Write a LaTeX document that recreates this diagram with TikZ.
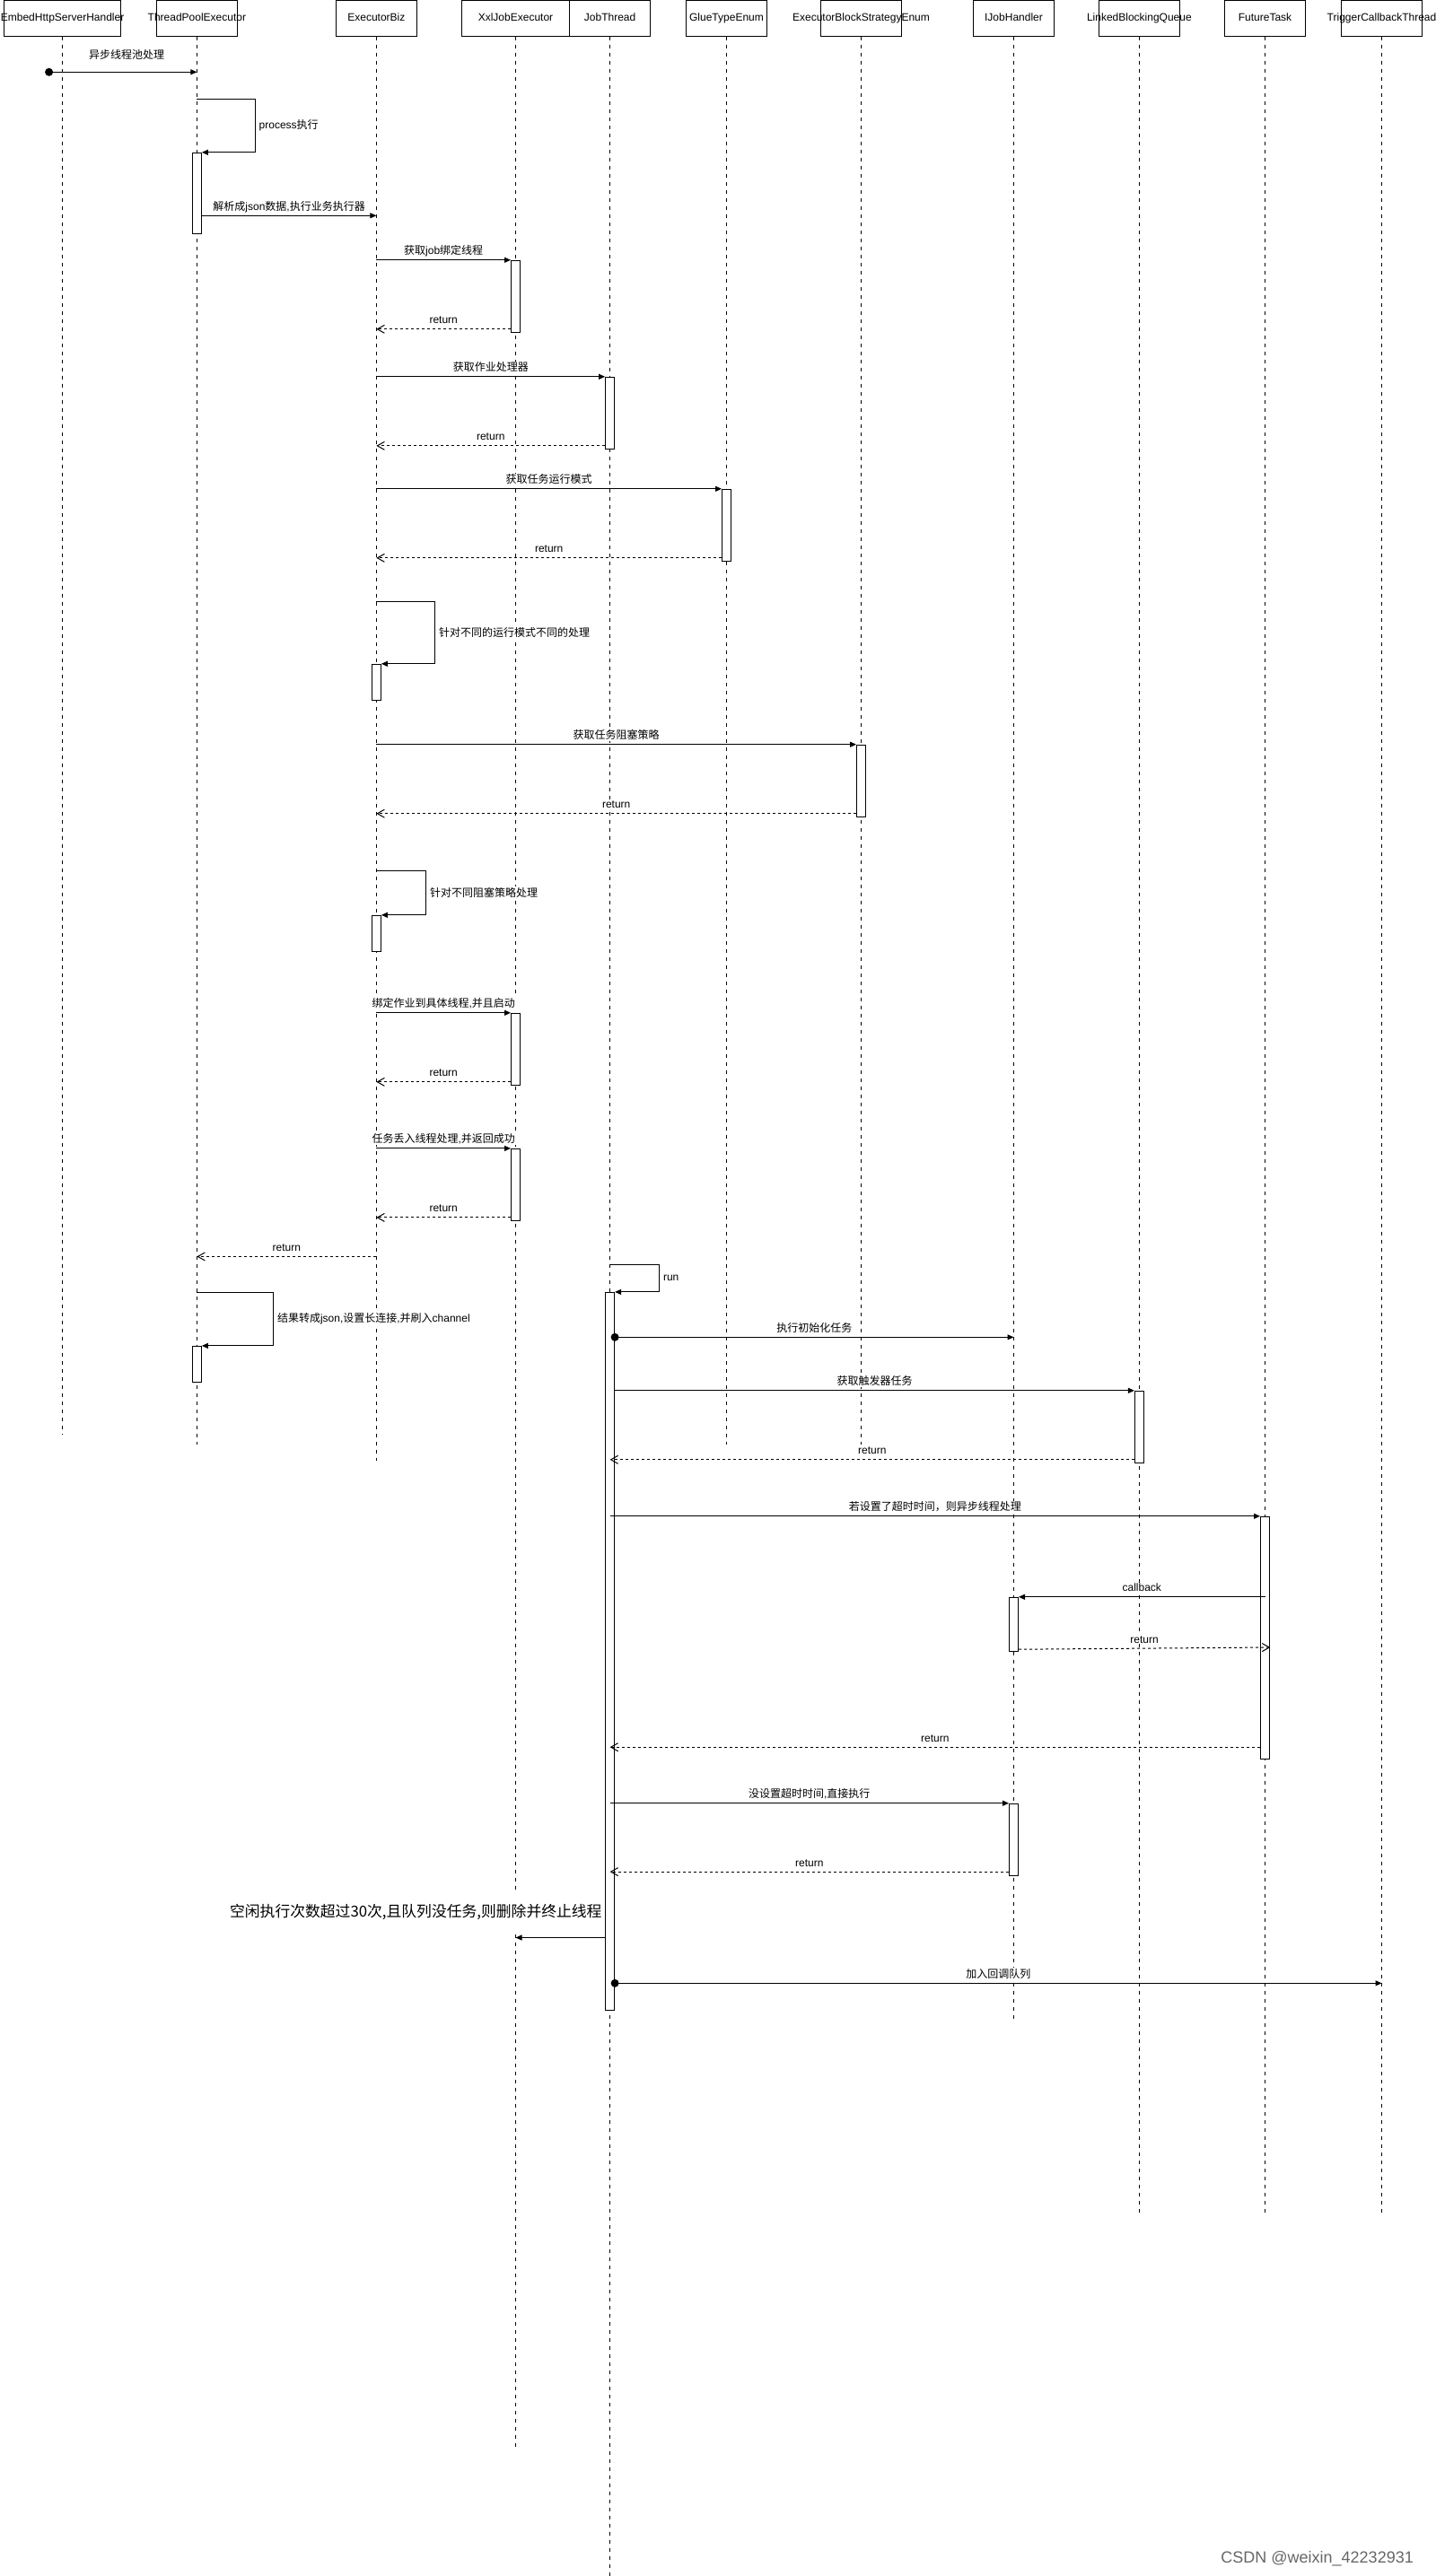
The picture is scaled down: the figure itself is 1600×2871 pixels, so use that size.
\documentclass[tikz,border=0pt]{standalone}
\usepackage{fontspec}
\setmainfont{Liberation Sans}
\newfontfamily\zhfont{Noto Sans CJK SC}
\newcommand{\zh}[1]{{\zhfont #1}}
\usetikzlibrary{arrows.meta}
\tikzset{
head/.style={draw, rectangle, minimum width=45pt, minimum height=20pt, inner sep=0pt},
headlbl/.style={inner sep=0pt, text height=4.4pt, text depth=1.3pt},
life/.style={draw, dash pattern=on 2.25pt off 2.25pt},
act/.style={draw, fill=white, rectangle, minimum width=5pt, inner sep=0pt},
call/.style={draw, -{Triangle[length=3.5pt, width=3pt]}},
ret/.style={draw, dash pattern=on 1.5pt off 1.5pt, -{Straight Barb[length=4pt, width=4.5pt]}},
startdot/.style={circle, fill, inner sep=0pt, minimum size=4.5pt},
lbl/.style={fill=white, inner sep=0.5pt, anchor=base, yshift=3pt},
looplbl/.style={fill=white, inner sep=0.5pt, anchor=west, xshift=1.5pt},
idlelbl/.style={fill=white, inner sep=1pt, minimum height=23pt, anchor=east, font=\fontsize{8.4pt}{10pt}\selectfont},
}

\begin{document}
\begin{tikzpicture}[x=0.5pt, y=-0.5pt, line width=0.5pt, font=\fontsize{6pt}{7.2pt}\selectfont]
    \useasboundingbox (0,0) rectangle (1600,2871);

    %heads at y=20
    \node[head, minimum width=65pt, label={[headlbl]center:EmbedHttpServerHandler}] (embed) at (69.6,20) { };
    \node[head, label={[headlbl]center:ThreadPoolExecutor}]              (pool) at (219.4,20) { };
    \node[head, label={[headlbl]center:ExecutorBiz}]                      (biz) at (419.4,20) { };
    \node[head, minimum width=60pt, label={[headlbl]center:XxlJobExecutor}] (xxl) at (574.5,20) { };
    \node[head, label={[headlbl]center:JobThread}]                      (jobth) at (679.6,20) { };
    \node[head, label={[headlbl]center:GlueTypeEnum}]                    (glue) at (809.5,20) { };
    \node[head, label={[headlbl]center:ExecutorBlockStrategyEnum}]      (block) at (959.5,20) { };
    \node[head, label={[headlbl]center:IJobHandler}]                  (handler) at (1129.5,20) { };
    \node[head, label={[headlbl]center:LinkedBlockingQueue}]            (queue) at (1269.4,20) { };
    \node[head, label={[headlbl]center:FutureTask}]                    (future) at (1409.5,20) { };
    \node[head, label={[headlbl]center:TriggerCallbackThread}]        (trigger) at (1539.5,20) { };

    %lifeline ends
    \coordinate   (embed-end) at (69.6,1598);
    \coordinate    (pool-end) at (219.4,1610);
    \coordinate     (biz-end) at (419.4,1628);
    \coordinate     (xxl-end) at (574.5,2730);
    \coordinate   (jobth-end) at (679.6,2871);
    \coordinate    (glue-end) at (809.5,1610);
    \coordinate   (block-end) at (959.5,1610);
    \coordinate (handler-end) at (1129.5,2251);
    \coordinate   (queue-end) at (1269.4,2468);
    \coordinate  (future-end) at (1409.5,2468);
    \coordinate (trigger-end) at (1539.5,2468);

    %lifelines
    \draw[life]   (embed)--(embed-end);
    \draw[life]    (pool)--(pool-end);
    \draw[life]     (biz)--(biz-end);
    \draw[life]     (xxl)--(xxl-end);
    \draw[life]   (jobth)--(jobth-end);
    \draw[life]    (glue)--(glue-end);
    \draw[life]   (block)--(block-end);
    \draw[life] (handler)--(handler-end);
    \draw[life]   (queue)--(queue-end);
    \draw[life]  (future)--(future-end);
    \draw[life] (trigger)--(trigger-end);

    %activations
    \node[act, minimum height=45pt]     (poolA) at (219.4,215.3) { };
    \node[act, minimum height=40pt]      (xxlA) at (574.5,330.3) { };
    \node[act, minimum height=40pt]      (jobA) at (679.6,460.3) { };
    \node[act, minimum height=40pt]     (glueA) at (809.5,585.3) { };
    \node[act, minimum height=20pt]      (bizA) at (419.4,760.3) { };
    \node[act, minimum height=40pt]    (blockA) at (959.5,870.2) { };
    \node[act, minimum height=20pt]      (bizB) at (419.4,1040.3) { };
    \node[act, minimum height=40pt]      (xxlB) at (574.5,1169.3) { };
    \node[act, minimum height=40pt]      (xxlC) at (574.5,1320.4) { };
    \node[act, minimum height=400pt]     (jobB) at (679.6,1840.4) { };
    \node[act, minimum height=20pt]     (poolB) at (219.4,1520.4) { };
    \node[act, minimum height=40pt]    (queueA) at (1269.4,1590.3) { };
    \node[act, minimum height=135pt]  (futureA) at (1409.5,1825.3) { };
    \node[act, minimum height=30pt]  (handlerA) at (1129.5,1810.3) { };
    \node[act, minimum height=40pt]  (handlerB) at (1129.5,2050.2) { };

    %message rows and loop corners
    \coordinate  (r1) at (54.6,80.3);
    \coordinate  (s2) at (284.2,110.3);
    \coordinate  (r3) at (0,240.3);
    \coordinate  (r5) at ([yshift=2pt]xxlA.south west);
    \coordinate  (r7) at ([yshift=2pt]jobA.south west);
    \coordinate  (r9) at ([yshift=2pt]glueA.south west);
    \coordinate (s10) at (484.6,670.3);
    \coordinate (r12) at ([yshift=2pt]blockA.south west);
    \coordinate (s13) at (474.6,970);
    \coordinate (r15) at ([yshift=2pt]xxlB.south west);
    \coordinate (r17) at ([yshift=2pt]xxlC.south west);
    \coordinate (r18) at (0,1400.4);
    \coordinate (s19) at (734.5,1409.5);
    \coordinate (s20) at (304.5,1440.4);
    \coordinate (r21) at (0,1490.3);
    \coordinate (r23) at ([yshift=2pt]queueA.south west);
    \coordinate (r26) at ([yshift=1.3pt]handlerA.south east);
    \coordinate (t26) at (1415.3,1836);
    \coordinate (r27) at ([yshift=6.8pt]futureA.south west);
    \coordinate (r29) at ([yshift=2.3pt]handlerB.south west);
    \coordinate (r30) at (0,2159.5);
    \coordinate (l30) at (673,2131);
    \coordinate (r31) at (0,2210.3);

    %calls from the http handler
    \node[startdot] (d1) at (r1) { };
    \draw[call] (r1)--node[lbl, yshift=4.5pt, xshift=2pt]{\zh{异步线程池处理}} (pool |- r1);
    \draw[call] (pool |- s2)--(s2) |- node[pos=0.25, looplbl]{process\zh{执行}} (poolA.north east);
    \draw[call] (poolA.east |- r3)--node[lbl]{\zh{解析成}json\zh{数据},\zh{执行业务执行器}} (biz |- r3);

    %ExecutorBiz
    \draw[call] (biz |- xxlA.north)--node[lbl]{\zh{获取}job\zh{绑定线程}} (xxlA.north west);
    \draw[ret] (r5)--node[lbl]{return} (biz |- r5);
    \draw[call] (biz |- jobA.north)--node[lbl]{\zh{获取作业处理器}} (jobA.north west);
    \draw[ret] (r7)--node[lbl]{return} (biz |- r7);
    \draw[call] (biz |- glueA.north)--node[lbl]{\zh{获取任务运行模式}} (glueA.north west);
    \draw[ret] (r9)--node[lbl]{return} (biz |- r9);
    \draw[call] (biz |- s10)--(s10) |- node[pos=0.25, looplbl]{\zh{针对不同的运行模式不同的处理}} (bizA.north east);
    \draw[call] (biz |- blockA.north)--node[lbl]{\zh{获取任务阻塞策略}} (blockA.north west);
    \draw[ret] (r12)--node[lbl]{return} (biz |- r12);
    \draw[call] (biz |- s13)--(s13) |- node[pos=0.25, looplbl]{\zh{针对不同阻塞策略处理}} (bizB.north east);
    \draw[call] (biz |- xxlB.north)--node[lbl]{\zh{绑定作业到具体线程},\zh{并且启动}} (xxlB.north west);
    \draw[ret] (r15)--node[lbl]{return} (biz |- r15);
    \draw[call] (biz |- xxlC.north)--node[lbl]{\zh{任务丢入线程处理},\zh{并返回成功}} (xxlC.north west);
    \draw[ret] (r17)--node[lbl]{return} (biz |- r17);
    \draw[ret] (biz |- r18)--node[lbl]{return} (pool |- r18);

    %JobThread
    \draw[call] (jobth |- s19)--(s19) |- node[pos=0.25, looplbl]{run} (jobB.north east);
    \draw[call] (pool |- s20)--(s20) |- node[pos=0.25, looplbl]{\zh{结果转成}json,\zh{设置长连接},\zh{并刷入}channel} (poolB.north east);
    \node[startdot] (d21) at (jobB.east |- r21) { };
    \draw[call] (d21.center)--node[lbl]{\zh{执行初始化任务}} (handler |- r21);
    \draw[call] (jobB.east |- queueA.north)--node[lbl]{\zh{获取触发器任务}} (queueA.north west);
    \draw[ret] (r23)--node[lbl]{return} (jobth |- r23);
    \draw[call] (jobth |- futureA.north)--node[lbl]{\zh{若设置了超时时间，则异步线程处理}} (futureA.north west);
    \draw[call] (future |- handlerA.north)--node[lbl]{callback} (handlerA.north east);
    \draw[ret] (r26)--node[lbl]{return} (t26);
    \draw[ret] (r27)--node[lbl]{return} (jobth |- r27);
    \draw[call] (jobth |- handlerB.north)--node[lbl]{\zh{没设置超时时间},\zh{直接执行}} (handlerB.north west);
    \draw[ret] (r29)--node[lbl]{return} (jobth |- r29);
    \node[idlelbl] (idle) at (l30) {\zh{空闲执行次数超过30次,且队列没任务,则删除并终止线程}};
    \draw[call] (jobB.west |- r30)--(xxl |- r30);
    \node[startdot] (d31) at (jobB.east |- r31) { };
    \draw[call] (d31.center)--node[lbl]{\zh{加入回调队列}} (trigger |- r31);

    %watermark
    \node[anchor=east, text=black!60, font=\fontsize{9pt}{10.8pt}\selectfont] (mark) at (1582,2852) {CSDN @weixin\_42232931};

\end{tikzpicture}
\end{document}
